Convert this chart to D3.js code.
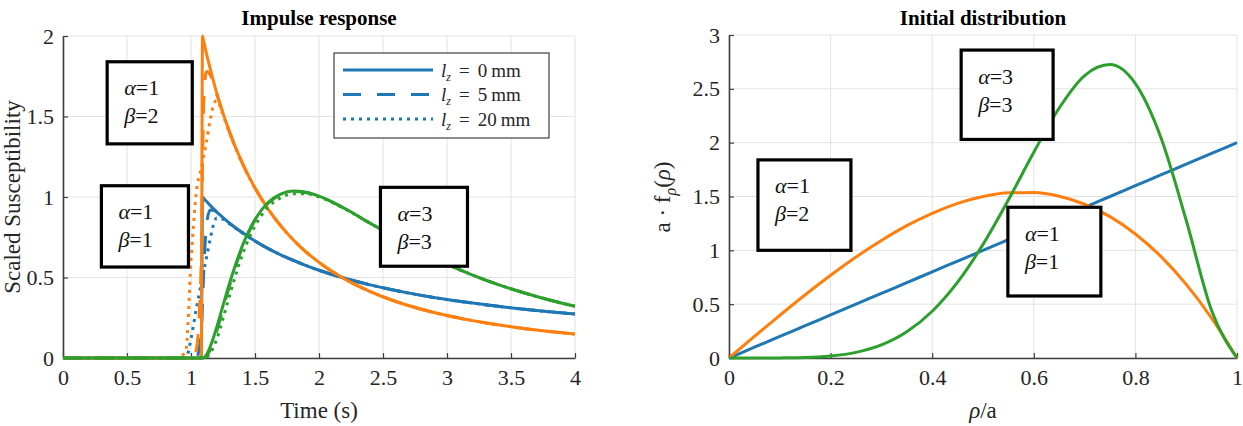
<!DOCTYPE html>
<html>
<head>
<meta charset="utf-8">
<script src="https://cdn.jsdelivr.net/npm/d3@7"></script>
<style>
  body { margin: 0; background: #fff; }
  svg { display: block; }
  text { font-family: 'Liberation Serif', 'Times New Roman', serif; }
</style>
</head>
<body>
<svg id="chart" width="1243" height="426" font-family="Liberation Serif, serif"></svg>
<script>
// impulse response, time axis (s)
const time = [0, 0.9, 0.96, 1.0, 1.04, 1.08, 1.09, 1.1, 1.12, 1.15, 1.18, 1.2, 1.25, 1.3, 1.4, 1.5, 1.6, 1.7, 1.8, 1.9, 2.0, 2.2, 2.4, 2.6, 2.8, 3.0, 3.2, 3.4, 3.6, 3.8, 4.0]

// alpha=1 beta=1
const blueLz0 = [0, 0, 0, 0, 0, 0, 1.0, 0.991, 0.973, 0.948, 0.924, 0.908, 0.872, 0.838, 0.779, 0.727, 0.681, 0.641, 0.606, 0.574, 0.545, 0.495, 0.454, 0.419, 0.389, 0.363, 0.341, 0.321, 0.303, 0.287, 0.273]
const blueLz5 = [0, 0, 0, 0, 0, 0.15, 0.35, 0.55, 0.82, 0.92, 0.918, 0.905, 0.871, 0.838, 0.779, 0.727, 0.681, 0.641, 0.606, 0.574, 0.545, 0.495, 0.454, 0.419, 0.389, 0.363, 0.341, 0.321, 0.303, 0.287, 0.273]
const blueLz20 = [0, 0, 0, 0.12, 0.3, 0.46, 0.5, 0.54, 0.62, 0.74, 0.84, 0.87, 0.862, 0.833, 0.777, 0.726, 0.681, 0.641, 0.606, 0.574, 0.545, 0.495, 0.454, 0.419, 0.389, 0.363, 0.341, 0.321, 0.303, 0.287, 0.273]

// alpha=1 beta=2
const orangeLz0 = [0, 0, 0, 0, 0, 0, 2.0, 1.964, 1.894, 1.797, 1.706, 1.650, 1.521, 1.406, 1.212, 1.056, 0.928, 0.822, 0.733, 0.658, 0.594, 0.491, 0.413, 0.351, 0.303, 0.264, 0.232, 0.206, 0.183, 0.164, 0.149]
const orangeLz5 = [0, 0, 0, 0, 0.05, 0.6, 1.2, 1.6, 1.78, 1.76, 1.69, 1.64, 1.52, 1.405, 1.212, 1.056, 0.928, 0.822, 0.733, 0.658, 0.594, 0.491, 0.413, 0.351, 0.303, 0.264, 0.232, 0.206, 0.183, 0.164, 0.149]
const orangeLz20 = [0, 0, 0.05, 0.6, 1.02, 1.18, 1.22, 1.26, 1.34, 1.48, 1.58, 1.6, 1.51, 1.40, 1.21, 1.055, 0.928, 0.822, 0.733, 0.658, 0.594, 0.491, 0.413, 0.351, 0.303, 0.264, 0.232, 0.206, 0.183, 0.164, 0.149]

// alpha=3 beta=3
const greenLz0 = [0, 0, 0, 0, 0, 0, 0, 0.002, 0.02, 0.070, 0.138, 0.189, 0.326, 0.461, 0.694, 0.860, 0.964, 1.018, 1.037, 1.029, 1.005, 0.929, 0.837, 0.746, 0.660, 0.583, 0.515, 0.456, 0.405, 0.360, 0.321]
const greenLz5 = [0, 0, 0, 0, 0, 0, 0, 0, 0.01, 0.05, 0.115, 0.165, 0.305, 0.445, 0.685, 0.855, 0.96, 1.015, 1.034, 1.027, 1.004, 0.929, 0.837, 0.746, 0.660, 0.583, 0.515, 0.456, 0.405, 0.360, 0.321]
const greenLz20 = [0, 0, 0, 0, 0, 0, 0, 0, 0.004, 0.03, 0.075, 0.115, 0.245, 0.385, 0.64, 0.82, 0.935, 0.995, 1.02, 1.02, 1.0, 0.927, 0.836, 0.746, 0.660, 0.583, 0.515, 0.456, 0.405, 0.360, 0.321]

// initial distribution
const rho = [0, 0.05, 0.1, 0.15, 0.2, 0.25, 0.3, 0.35, 0.4, 0.45, 0.5, 0.55, 0.6, 0.65, 0.7, 0.75, 0.8, 0.85, 0.9, 0.95, 1.0]
const distBlue = [0, 0.1, 0.2, 0.3, 0.4, 0.5, 0.6, 0.7, 0.8, 0.9, 1.0, 1.1, 1.2, 1.3, 1.4, 1.5, 1.6, 1.7, 1.8, 1.9, 2.0]
const distOrange = [0, 0.2, 0.396, 0.587, 0.768, 0.938, 1.092, 1.229, 1.344, 1.436, 1.5, 1.535, 1.536, 1.502, 1.428, 1.313, 1.152, 0.944, 0.684, 0.371, 0]
const distGreen = [0, 0, 0.001, 0.004, 0.018, 0.052, 0.121, 0.243, 0.434, 0.704, 1.055, 1.469, 1.911, 2.322, 2.623, 2.725, 2.548, 2.05, 1.279, 0.441, 0]

const lzValues = ['0', '5', '20']
const timeTicks = [0, 0.5, 1, 1.5, 2, 2.5, 3, 3.5, 4]
const suscTicks = [0, 0.5, 1, 1.5, 2]
const rhoTicks = [0, 0.2, 0.4, 0.6, 0.8, 1]
const distTicks = [0, 0.5, 1, 1.5, 2, 2.5, 3]
const impulseNotes = [['1', '2'], ['1', '1'], ['3', '3']]
const distNotes = [['1', '2'], ['3', '3'], ['1', '1']]

const colors = ['#1f77b4', '#ff7f0e', '#2ca02c']
const dashes = [null, '18,16', '3,5']

// note box placement in data units [x0, x1, yTop, yBottom]
const impulseBoxes = [[0.345, 1.01, 1.84, 1.33], [0.3, 0.98, 1.07, 0.565], [2.48, 3.16, 1.06, 0.57]]
const distBoxes = [[0.057, 0.24, 1.84, 1.0], [0.457, 0.638, 2.86, 2.03], [0.549, 0.732, 1.4, 0.576]]

const serif = "'Liberation Serif', 'Times New Roman', serif"
const svg = d3.select('#chart')

function drawPanel(opt) {
  const x = d3.scaleLinear().domain(opt.xDomain).range(opt.xRange)
  const y = d3.scaleLinear().domain(opt.yDomain).range(opt.yRange)
  const g = svg.append('g')
  const [x0, x1] = opt.xRange
  const [yb, yt] = opt.yRange

  // grid
  g.append('g').selectAll('line')
    .data(opt.xTicks)
    .join('line')
    .attr('x1', d => x(d)).attr('x2', d => x(d))
    .attr('y1', yt).attr('y2', yb)
    .attr('stroke', '#e3e3e3')
  g.append('g').selectAll('line')
    .data(opt.yTicks)
    .join('line')
    .attr('x1', x0).attr('x2', x1)
    .attr('y1', d => y(d)).attr('y2', d => y(d))
    .attr('stroke', '#e3e3e3')

  const xAxis = g.append('g')
    .attr('transform', `translate(0,${yb})`)
    .call(d3.axisBottom(x).tickValues(opt.xTicks).tickFormat(d3.format('')).tickSizeInner(-5).tickSizeOuter(0).tickPadding(11))
  const yAxis = g.append('g')
    .attr('transform', `translate(${x0},0)`)
    .call(d3.axisLeft(y).tickValues(opt.yTicks).tickFormat(d3.format('')).tickSizeInner(-5).tickSizeOuter(0).tickPadding(9))
  for (const ax of [xAxis, yAxis]) {
    ax.attr('font-family', serif).attr('font-size', 22)
    ax.select('.domain').attr('stroke', '#404040').attr('stroke-width', 1.6)
    ax.selectAll('.tick line').attr('stroke', '#404040').attr('stroke-width', 1.2)
    ax.selectAll('.tick text').attr('fill', '#262626')
  }

  // curves
  const line = d3.line()
    .x(d => x(d[0]))
    .y(d => y(d[1]))
    .curve(d3.curveMonotoneX)
  g.append('g').selectAll('path')
    .data(opt.series)
    .join('path')
    .attr('d', s => line(opt.xs.map((v, i) => [v, s.values[i]])))
    .attr('fill', 'none')
    .attr('stroke', s => s.color)
    .attr('stroke-width', 3)
    .attr('stroke-dasharray', s => s.dash)

  // title
  g.append('text')
    .attr('x', (x0 + x1) / 2)
    .attr('y', 25)
    .attr('text-anchor', 'middle')
    .attr('font-weight', 'bold')
    .attr('font-size', 21)
    .text(opt.title)

  // note boxes
  const notes = g.append('g').selectAll('g')
    .data(opt.notes.map((n, i) => ({ n, b: opt.boxes[i] })))
    .join('g')
  notes.append('rect')
    .attr('x', d => x(d.b[0]))
    .attr('y', d => y(d.b[2]))
    .attr('width', d => x(d.b[1]) - x(d.b[0]))
    .attr('height', d => y(d.b[3]) - y(d.b[2]))
    .attr('fill', '#fff')
    .attr('stroke', '#000')
    .attr('stroke-width', 3.2)
  const noteText = notes.append('text')
    .attr('font-size', 22)
    .attr('fill', '#111')
  ;['α', 'β'].forEach((sym, k) => {
    const row = noteText.append('tspan')
      .attr('x', d => x(d.b[0]) + 17)
      .attr('y', d => y(d.b[2]) + 33.5 + k * 28)
    row.append('tspan').attr('font-style', 'italic').text(sym)
    row.append('tspan').text(d => '=' + d.n[k])
  })

  return { x, y, g }
}

const left = drawPanel({
  xDomain: [0, 4], xRange: [63, 575],
  yDomain: [0, 2], yRange: [358, 36],
  xTicks: timeTicks, yTicks: suscTicks,
  xs: time,
  title: 'Impulse response',
  notes: impulseNotes, boxes: impulseBoxes,
  series: [
    { values: blueLz0, color: colors[0], dash: dashes[0] },
    { values: blueLz5, color: colors[0], dash: dashes[1] },
    { values: blueLz20, color: colors[0], dash: dashes[2] },
    { values: orangeLz0, color: colors[1], dash: dashes[0] },
    { values: orangeLz5, color: colors[1], dash: dashes[1] },
    { values: orangeLz20, color: colors[1], dash: dashes[2] },
    { values: greenLz0, color: colors[2], dash: dashes[0] },
    { values: greenLz5, color: colors[2], dash: dashes[1] },
    { values: greenLz20, color: colors[2], dash: dashes[2] }
  ]
})

const right = drawPanel({
  xDomain: [0, 1], xRange: [729, 1237],
  yDomain: [0, 3], yRange: [358, 35],
  xTicks: rhoTicks, yTicks: distTicks,
  xs: rho,
  title: 'Initial distribution',
  notes: distNotes, boxes: distBoxes,
  series: [
    { values: distBlue, color: colors[0], dash: null },
    { values: distOrange, color: colors[1], dash: null },
    { values: distGreen, color: colors[2], dash: null }
  ]
})

// axis labels
svg.append('text')
  .attr('x', 319).attr('y', 418)
  .attr('text-anchor', 'middle')
  .attr('font-size', 23)
  .attr('fill', '#262626')
  .text('Time (s)')

svg.append('text')
  .attr('transform', 'translate(20,197) rotate(-90)')
  .attr('text-anchor', 'middle')
  .attr('font-size', 23)
  .attr('fill', '#262626')
  .text('Scaled Susceptibility')

const rhoLabel = svg.append('text')
  .attr('x', 983).attr('y', 418)
  .attr('text-anchor', 'middle')
  .attr('font-size', 23)
  .attr('fill', '#262626')
rhoLabel.append('tspan').attr('font-style', 'italic').text('ρ')
rhoLabel.append('tspan').text('/a')

const fLabel = svg.append('text')
  .attr('transform', 'translate(670,197) rotate(-90)')
  .attr('text-anchor', 'middle')
  .attr('font-size', 23)
  .attr('fill', '#262626')
fLabel.append('tspan').text('a · f')
fLabel.append('tspan').attr('font-style', 'italic').attr('font-size', 16).attr('dy', 6).text('ρ')
fLabel.append('tspan').attr('dy', -6).text('(')
fLabel.append('tspan').attr('font-style', 'italic').text('ρ')
fLabel.append('tspan').text(')')

// legend for l_z
const legend = left.g.append('g').attr('transform', 'translate(334,53)')
legend.append('rect')
  .attr('width', 215).attr('height', 85)
  .attr('fill', '#fff')
  .attr('stroke', '#404040')
  .attr('stroke-width', 1.2)
const items = legend.selectAll('g.item')
  .data(lzValues)
  .join('g')
  .attr('class', 'item')
  .attr('transform', (d, i) => `translate(0,${17 + i * 24.5})`)
items.append('line')
  .attr('x1', 9).attr('x2', 99)
  .attr('stroke', colors[0])
  .attr('stroke-width', 3)
  .attr('stroke-dasharray', (d, i) => dashes[i])
const lt = items.append('text')
  .attr('x', 107).attr('y', 6.5)
  .attr('font-size', 19)
  .attr('fill', '#262626')
lt.append('tspan').attr('font-style', 'italic').text('l')
lt.append('tspan').attr('font-style', 'italic').attr('font-size', 12).attr('dy', 4).text('z')
lt.append('tspan').attr('dy', -4).attr('dx', 8).text('=')
lt.append('tspan').attr('dx', 8).text(d => d)
lt.append('tspan').attr('dx', 4).text('mm')
</script>
</body>
</html>
